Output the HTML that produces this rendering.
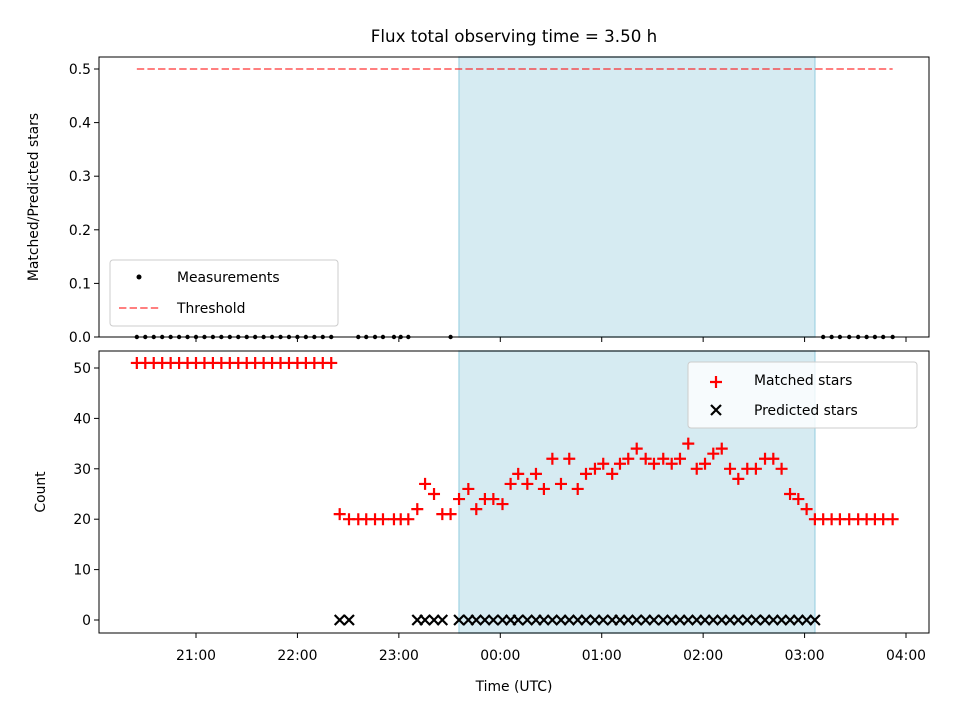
<!DOCTYPE html>
<html><head><meta charset="utf-8"><style>
html,body{margin:0;padding:0;background:#fff;}
svg{display:block;font-family:"DejaVu Sans","Liberation Sans",sans-serif;}
</style></head><body>
<svg id="chart" width="960" height="720" viewBox="0 0 960 720" xmlns="http://www.w3.org/2000/svg">
<rect width="960" height="720" fill="#fff"/>
<text x="514" y="42" font-size="16.7" text-anchor="middle" fill="#000">Flux total observing time = 3.50 h</text>
<g id="topPanel"></g>
<g id="botPanel"></g>
</svg>
<script>
// minutes after 20:00 UTC
const matchedTimes = [25,30,35,40,45,50,55,60,65,70,75,80,85,90,95,100,105,110,115,120,125,130,135,140,
145,150.5,156,160.7,165.9,170.6,177.1,181.1,185.6,190.9,195.5,200.8,205.7,210.6,215.6,221.1,225.8,230.9,235.9,241.3,246.1,250.6,256,261.1,265.8,270.8,275.9,280.8,285.8,290.7,296,300.9,306.2,310.8,315.7,320.7,326,330.9,336.4,341.4,346.3,351.2,356.2,361.1,366,371,375.9,380.8,386.1,391.2,396.6,401.5,406.4,411.4,416.3,421.2,426.1,431,436,440.9,446.4,451.7,456.7,461.6,466.5,472.1];
const matchedValues = [51,51,51,51,51,51,51,51,51,51,51,51,51,51,51,51,51,51,51,51,51,51,51,51,
21,20,20,20,20,20,20,20,20,22,27,25,21,21,24,26,22,24,24,23,27,29,27,29,26,32,27,32,26,29,30,31,29,31,32,34,32,31,32,31,32,35,30,31,33,34,30,28,30,30,32,32,30,25,24,22,20,20,20,20,20,20,20,20,20,20];
const predictedTimes = [145,150.5,190.9,195.5,200.8,205.7,215.6,221.1,225.8,230.9,235.9,241.3,246.1,250.6,256,261.1,265.8,270.8,275.9,280.8,285.8,290.7,296,300.9,306.2,310.8,315.7,320.7,326,330.9,336.4,341.4,346.3,351.2,356.2,361.1,366,371,375.9,380.8,386.1,391.2,396.6,401.5,406.4,411.4,416.3,421.2,426.1];
const predictedValues = predictedTimes.map(()=>0);
const measTimes = [25,30,35,40,45,50,55,60,65,70,75,80,85,90,95,100,105,110,115,120,125,130,135,140,156,160.7,165.9,170.6,177.1,181.1,185.6,210.6,431,436,440.9,446.4,451.7,456.7,461.6,466.5,472.1];
const measValues = measTimes.map(()=>0);
const thresholdValue = 0.5;
const thresholdRange = [25,472.1];
const shadeRange = [215.6,426.1];
const xTickValues = [60,120,180,240,300,360,420,480];
const xTickLabels = ["21:00","22:00","23:00","00:00","01:00","02:00","03:00","04:00"];
const topTicks = [0,0.1,0.2,0.3,0.4,0.5];
const topTickLabels = ["0.0","0.1","0.2","0.3","0.4","0.5"];
const botTicks = [0,10,20,30,40,50];
const botTickLabels = ["0","10","20","30","40","50"];

const NS="http://www.w3.org/2000/svg";
const L=99,R=929;
const xs = t => 94.57 + t/60*101.43;
const yTop = v => 337 - v*536;
const yBot = v => 620 - v*5.04;
function mk(tag,attrs,parent,name,inter){const e=document.createElementNS(NS,tag);for(const k in attrs)e.setAttribute(k,attrs[k]);


parent.appendChild(e);return e;}
function txt(s,attrs,parent,name){const e=mk('text',attrs,parent,name,false);e.textContent=s;return e;}

function panel(g,y0,y1,yf,ticks,labels,showX){
  mk('rect',{x:xs(shadeRange[0]),y:y0,width:xs(shadeRange[1])-xs(shadeRange[0]),height:y1-y0,fill:'#add8e6','fill-opacity':0.5,stroke:'#add8e6','stroke-width':1.5},g,'observing-window-shade');
  ticks.forEach((v,i)=>{const yy=yf(v);
    mk('line',{x1:L-5,x2:L,y1:yy,y2:yy,stroke:'#000','stroke-width':1},g,'y-tick');
    txt(labels[i],{x:L-8,y:yy+5,'font-size':13.9,'text-anchor':'end'},g,'y-tick-label');});
  xTickValues.forEach((v,i)=>{const xx=xs(v);
    mk('line',{x1:xx,x2:xx,y1:y1,y2:y1+5,stroke:'#000','stroke-width':1},g,'x-tick');
    if(showX) txt(xTickLabels[i],{x:xx,y:y1+27,'font-size':13.9,'text-anchor':'middle'},g,'x-tick-label');});
}
const gTop=document.getElementById('topPanel'), gBot=document.getElementById('botPanel');
panel(gTop,57,337,yTop,topTicks,topTickLabels,false);
panel(gBot,351,633,yBot,botTicks,botTickLabels,true);

mk('line',{x1:xs(thresholdRange[0]),x2:xs(thresholdRange[1]),y1:yTop(thresholdValue),y2:yTop(thresholdValue),stroke:'#ff0000','stroke-opacity':0.5,'stroke-width':2,'stroke-dasharray':'7.4,3.2'},gTop,'threshold-line');
measTimes.forEach((t,i)=>{mk('circle',{cx:xs(t),cy:yTop(measValues[i]),r:2.2,fill:'#000'},gTop,'measurement-point');});
matchedTimes.forEach((t,i)=>{const cx=xs(t),cy=yBot(matchedValues[i]);
  mk('path',{d:`M${cx-6} ${cy}H${cx+6}M${cx} ${cy-6}V${cy+6}`,stroke:'#ff0000','stroke-width':2.2},gBot,'matched-star-marker');});
predictedTimes.forEach((t,i)=>{const cx=xs(t),cy=yBot(predictedValues[i]);
  mk('path',{d:`M${cx-5} ${cy-5}L${cx+5} ${cy+5}M${cx-5} ${cy+5}L${cx+5} ${cy-5}`,stroke:'#000','stroke-width':2.2},gBot,'predicted-star-marker');});

mk('rect',{x:L,y:57,width:R-L,height:280,fill:'none',stroke:'#000','stroke-width':1},gTop,'top-frame');
mk('rect',{x:L,y:351,width:R-L,height:282,fill:'none',stroke:'#000','stroke-width':1},gBot,'bottom-frame');

txt('Matched/Predicted stars',{x:0,y:0,'font-size':13.9,'text-anchor':'middle',transform:'translate(38,197) rotate(-90)'},gTop,'top-y-axis-title');
txt('Count',{x:0,y:0,'font-size':13.9,'text-anchor':'middle',transform:'translate(45,492) rotate(-90)'},gBot,'bottom-y-axis-title');
txt('Time (UTC)',{x:514,y:691,'font-size':13.9,'text-anchor':'middle'},gBot,'x-axis-title');

const lg1=mk('g',{},gTop,'top-legend');
mk('rect',{x:110,y:260,width:228,height:66,rx:3,fill:'#fff','fill-opacity':0.8,stroke:'#ccc','stroke-width':1},lg1,'legend-box');
mk('circle',{cx:139,cy:277,r:2.5,fill:'#000'},lg1,'legend-measurements-marker');
txt('Measurements',{x:177,y:282,'font-size':13.9},lg1,'legend-measurements-label');
mk('line',{x1:119,x2:159,y1:308,y2:308,stroke:'#ff0000','stroke-opacity':0.5,'stroke-width':2,'stroke-dasharray':'7.4,3.2'},lg1,'legend-threshold-line');
txt('Threshold',{x:177,y:313,'font-size':13.9},lg1,'legend-threshold-label');
const lg2=mk('g',{},gBot,'bottom-legend');
mk('rect',{x:688,y:362,width:229,height:66,rx:3,fill:'#fff','fill-opacity':0.8,stroke:'#ccc','stroke-width':1},lg2,'legend-box');
mk('path',{d:'M710 382H722M716 376V388',stroke:'#ff0000','stroke-width':2.2},lg2,'legend-matched-marker');
txt('Matched stars',{x:754,y:385,'font-size':13.9},lg2,'legend-matched-label');
mk('path',{d:'M711 405L721 415M711 415L721 405',stroke:'#000','stroke-width':2.2},lg2,'legend-predicted-marker');
txt('Predicted stars',{x:754,y:415,'font-size':13.9},lg2,'legend-predicted-label');
</script>
</body></html>
